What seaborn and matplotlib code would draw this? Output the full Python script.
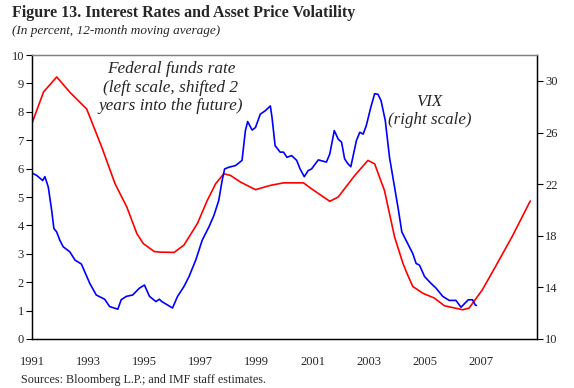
import matplotlib
matplotlib.use("Agg")
import matplotlib.pyplot as plt
import seaborn as sns
import pandas as pd

# ---------------- data ----------------
# Federal funds rate, shifted 2 years forward (left scale, percent)
ffr_year = [1991.0, 1991.4, 1991.87, 1992.35, 1992.94, 1993.06, 1993.48, 1993.95,
            1994.37, 1994.73, 1994.96, 1995.35, 1995.55, 1996.06, 1996.41, 1996.89,
            1997.24, 1997.54, 1997.83, 1998.07, 1998.42, 1998.96, 1999.49, 1999.96,
            2000.14, 2000.67, 2000.96, 2001.61, 2001.91, 2002.5, 2002.97, 2003.21,
            2003.56, 2003.92, 2004.22, 2004.39, 2004.57, 2004.93, 2005.34, 2005.7,
            2006.35, 2006.58, 2007.05, 2007.52, 2008.11, 2008.76]
ffr_rate = [7.63, 8.7, 9.23, 8.68, 8.1, 7.8, 6.75, 5.47,
            4.65, 3.71, 3.36, 3.08, 3.06, 3.05, 3.31, 4.07,
            4.88, 5.47, 5.82, 5.76, 5.53, 5.26, 5.41, 5.5,
            5.5, 5.5, 5.29, 4.85, 5.0, 5.76, 6.29, 6.17,
            5.23, 3.6, 2.66, 2.25, 1.85, 1.61, 1.44, 1.17,
            1.03, 1.09, 1.73, 2.55, 3.6, 4.86]

# VIX (right scale)
vix_year = [1991.0, 1991.16, 1991.37, 1991.45, 1991.57, 1991.69, 1991.77, 1991.87,
            1991.98, 1992.1, 1992.34, 1992.52, 1992.75, 1992.87, 1993.05, 1993.28,
            1993.58, 1993.76, 1994.05, 1994.17, 1994.35, 1994.58, 1994.82, 1995.0,
            1995.18, 1995.41, 1995.53, 1995.62, 1995.82, 1996.0, 1996.18, 1996.41,
            1996.59, 1996.83, 1997.06, 1997.3, 1997.48, 1997.65, 1997.77, 1997.86,
            1998.01, 1998.25, 1998.48, 1998.6, 1998.68, 1998.84, 1998.96, 1999.13,
            1999.31, 1999.49, 1999.55, 1999.66, 1999.84, 1999.96, 2000.08, 2000.25,
            2000.43, 2000.55, 2000.7, 2000.84, 2000.96, 2001.2, 2001.49, 2001.61,
            2001.77, 2001.91, 2002.03, 2002.14, 2002.26, 2002.36, 2002.56, 2002.68,
            2002.8, 2002.91, 2003.07, 2003.21, 2003.33, 2003.44, 2003.59, 2003.74,
            2003.92, 2004.06, 2004.18, 2004.39, 2004.57, 2004.69, 2004.81, 2004.99,
            2005.22, 2005.4, 2005.64, 2005.87, 2006.11, 2006.29, 2006.41, 2006.55,
            2006.7, 2006.8, 2006.84]
vix_level = [22.85, 22.67, 22.28, 22.58, 21.77, 19.97, 18.56, 18.29,
             17.66, 17.15, 16.75, 16.12, 15.81, 15.21, 14.31, 13.41,
             13.08, 12.51, 12.31, 13.04, 13.3, 13.41, 13.94, 14.18,
             13.3, 12.9, 13.08, 12.9, 12.64, 12.4, 13.3, 14.07,
             14.84, 16.12, 17.66, 18.69, 19.59, 20.74, 22.28, 23.18,
             23.31, 23.44, 23.84, 26.15, 26.85, 26.19, 26.39, 27.42,
             27.69, 28.06, 27.16, 24.98, 24.48, 24.48, 24.08, 24.21,
             23.84, 23.18, 22.58, 23.05, 23.18, 23.88, 23.71, 24.34,
             26.15, 25.49, 25.25, 23.95, 23.57, 23.35, 25.38, 26.02,
             25.88, 26.52, 27.93, 29.01, 28.96, 28.46, 26.92, 24.08,
             21.77, 19.97, 18.29, 17.39, 16.62, 15.85, 15.72, 14.84,
             14.31, 13.94, 13.3, 12.99, 12.99, 12.46, 12.73, 13.04,
             13.04, 12.64, 12.6]

year_ticks = list(range(1991, 2010))
year_labels = [str(y) if y % 2 == 1 and y <= 2007 else "" for y in year_ticks]
left_ticks = list(range(0, 11))
right_ticks = [10, 14, 18, 22, 26, 30]

# ---------------- plot ----------------
sns.set_theme(style="white")
plt.rcParams["font.family"] = ["Liberation Serif", "DejaVu Serif"]

ffr = pd.DataFrame({"year": ffr_year, "rate": ffr_rate})
vix = pd.DataFrame({"year": vix_year, "vix": vix_level})

fig = plt.figure(figsize=(5.74, 3.88), dpi=100)
ax = fig.add_axes([0.0563, 0.1263, 0.8792, 0.7317])
ax2 = ax.twinx()

sns.lineplot(data=ffr, x="year", y="rate", ax=ax, color="#ff0000", lw=1.2)
sns.lineplot(data=vix, x="year", y="vix", ax=ax2, color="#0000ff", lw=1.2)

ax.set_xlim(1991, 2009)
ax.set_ylim(0, 10)
ax2.set_ylim(10, 32)

ax.set_xticks(year_ticks)
ax.set_xticklabels(year_labels)
ax.set_yticks(left_ticks)
ax2.set_yticks(right_ticks)
ax.set_xlabel("")
ax.set_ylabel("")
ax2.set_ylabel("")

for a in (ax, ax2):
    a.grid(False)
    for s in ("left", "right", "bottom"):
        a.spines[s].set_color("black")
        a.spines[s].set_linewidth(0.9)
    a.spines["top"].set_color("#808080")
    a.spines["top"].set_linewidth(0.9)

ax.tick_params(axis="x", direction="out", length=4, width=0.8, color="black",
               labelsize=9, pad=8)
ax.tick_params(axis="y", direction="out", length=4, width=0.8, color="black",
               labelsize=9, pad=2, left=True)
ax2.tick_params(axis="y", direction="out", length=4, width=0.8, color="black",
                labelsize=9, pad=2, right=True)

# annotations
ax.text(1995.94, 8.85, "Federal funds rate\n(left scale, shifted 2\nyears into the future)",
        ha="center", va="center", fontsize=12.4, style="italic", linespacing=1.19)
ax.text(2005.16, 8.02, "VIX\n(right scale)", ha="center", va="center",
        fontsize=12.2, style="italic", linespacing=1.19)

fig.text(0.021, 0.967, "Figure 13. Interest Rates and Asset Price Volatility",
         ha="left", va="center", fontsize=11.5, fontweight="bold")
fig.text(0.021, 0.921, "(In percent, 12-month moving average)",
         ha="left", va="center", fontsize=9.5, style="italic")
fig.text(0.036, 0.021, "Sources: Bloomberg L.P.; and IMF staff estimates.",
         ha="left", va="center", fontsize=8.7)

fig.savefig("out.png", dpi=100)
plt.close(fig)
